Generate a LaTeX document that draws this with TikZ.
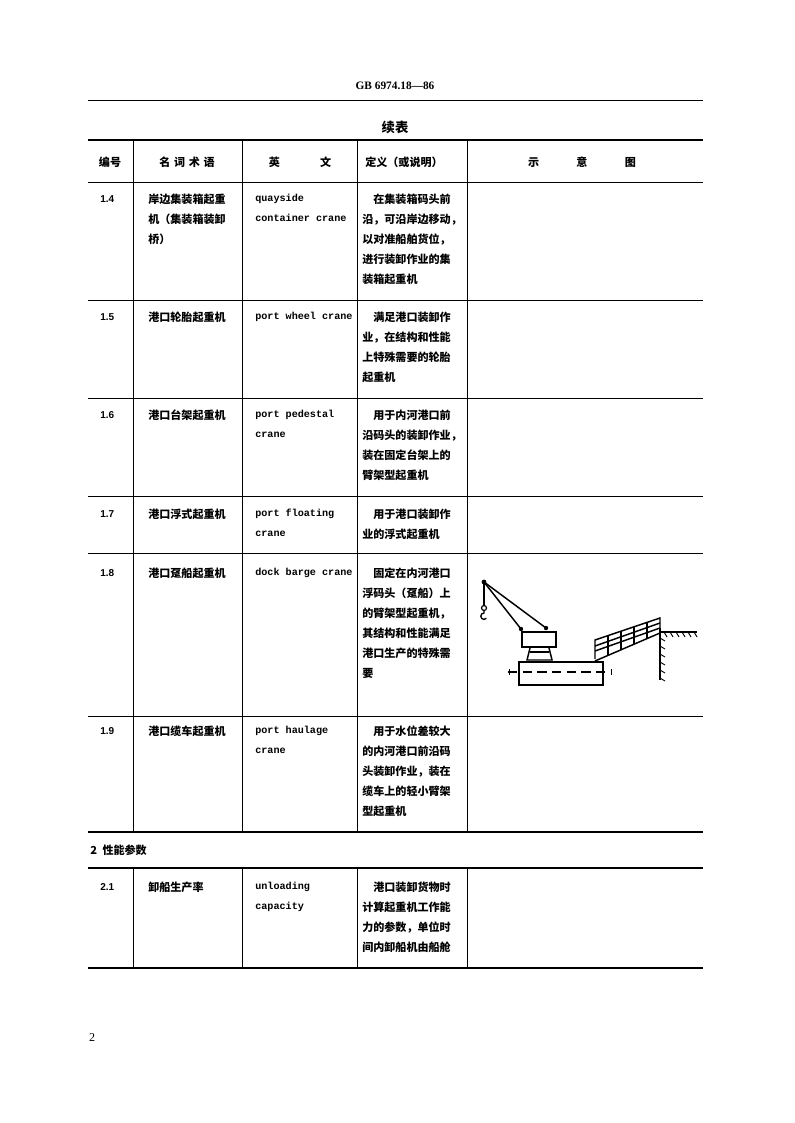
\documentclass[tikz,border=0pt]{standalone}
\usepackage{fontspec}
\newfontfamily\cjk{Noto Sans CJK SC}
\newfontfamily\mono{Liberation Mono Bold}
\newfontfamily\numf{Liberation Sans Bold}
\setmainfont{Liberation Serif}
\begin{document}
\begin{tikzpicture}[x=0.75pt,y=-0.75pt,
  cell/.style={anchor=north west,inner sep=0pt,font=\cjk\bfseries\fontsize{8.3}{15}\selectfont,align=left},
  en/.style={anchor=north west,inner sep=0pt,font=\mono\fontsize{7.6}{15}\selectfont,align=left},
  num/.style={anchor=north west,inner sep=0pt,font=\numf\fontsize{7.5}{15}\selectfont},
  thin/.style={line width=0.5pt}]
\useasboundingbox (0,0) rectangle (794,1123);
\node[inner sep=0pt,font=\fontsize{8.5}{10}\selectfont\bfseries] (hd) at (395,86) {GB 6974.18—86};
\draw[thin] (88,100) -- (703,100);
\node[inner sep=0pt,font=\cjk\bfseries\fontsize{10}{12}\selectfont] (xb) at (395,127) {续表};
\draw[line width=1.2pt] (88,140) -- (703,140);
\foreach \y in {182,300,398,496,553,716}{\draw[thin] (88,\y) -- (703,\y);}
\draw[line width=1pt] (88,832) -- (703,832);
\draw[line width=1pt] (88,868) -- (703,868);
\draw[line width=1pt] (88,968) -- (703,968);
\foreach \x in {133,242,357,467}{\draw[thin] (\x,140) -- (\x,832); \draw[thin] (\x,868) -- (\x,968);}
% header
\node[inner sep=0pt,font=\cjk\bfseries\fontsize{8.3}{10}\selectfont] (h1) at (110,162) {编号};
\node[inner sep=0pt,font=\cjk\bfseries\fontsize{8.3}{10}\selectfont] (h2) at (187,162) {名\,\,词\,\,术\,\,语};
\node[inner sep=0pt,font=\cjk\bfseries\fontsize{8.3}{10}\selectfont] (h3) at (300,162) {英\hspace{30pt}文};
\node[inner sep=0pt,font=\cjk\bfseries\fontsize{8.3}{10}\selectfont] (h4) at (404,162) {定义（或说明）};
\node[inner sep=0pt,font=\cjk\bfseries\fontsize{8.3}{10}\selectfont] (h5) at (582,162) {示\hspace{28pt}意\hspace{28pt}图};
% rows
\node[num] (n14) at (100,195) {1.4};
\node[cell] (t14) at (148,194) {岸边集装箱起重\\机（集装箱装卸\\桥）};
\node[en] (e14) at (255,194) {quayside\\container crane};
\node[cell] (d14) at (362,194) {\quad 在集装箱码头前\\沿，可沿岸边移动，\\以对准船舶货位，\\进行装卸作业的集\\装箱起重机};
\node[num] (n15) at (100,313) {1.5};
\node[cell] (t15) at (148,312) {港口轮胎起重机};
\node[en] (e15) at (255,312) {port wheel crane};
\node[cell] (d15) at (362,312) {\quad 满足港口装卸作\\业，在结构和性能\\上特殊需要的轮胎\\起重机};
\node[num] (n16) at (100,411) {1.6};
\node[cell] (t16) at (148,410) {港口台架起重机};
\node[en] (e16) at (255,410) {port pedestal\\crane};
\node[cell] (d16) at (362,410) {\quad 用于内河港口前\\沿码头的装卸作业，\\装在固定台架上的\\臂架型起重机};
\node[num] (n17) at (100,510) {1.7};
\node[cell] (t17) at (148,509) {港口浮式起重机};
\node[en] (e17) at (255,509) {port floating\\crane};
\node[cell] (d17) at (362,509) {\quad 用于港口装卸作\\业的浮式起重机};
\node[num] (n18) at (100,569) {1.8};
\node[cell] (t18) at (148,568) {港口趸船起重机};
\node[en] (e18) at (255,568) {dock barge crane};
\node[cell] (d18) at (362,568) {\quad 固定在内河港口\\浮码头（趸船）上\\的臂架型起重机，\\其结构和性能满足\\港口生产的特殊需\\要};
\node[num] (n19) at (100,727) {1.9};
\node[cell] (t19) at (148,726) {港口缆车起重机};
\node[en] (e19) at (255,726) {port haulage\\crane};
\node[cell] (d19) at (362,726) {\quad 用于水位差较大\\的内河港口前沿码\\头装卸作业，装在\\缆车上的轻小臂架\\型起重机};
\node[cell,font=\cjk\bfseries\fontsize{8.3}{10}\selectfont] (s2) at (90,845) {2\enspace 性能参数};
\node[num] (n21) at (100,883) {2.1};
\node[cell] (t21) at (148,882) {卸船生产率};
\node[en] (e21) at (255,882) {unloading\\capacity};
\node[cell] (d21) at (362,882) {\quad 港口装卸货物时\\计算起重机工作能\\力的参数，单位时\\间内卸船机由船舱};
\node[inner sep=0pt,font=\fontsize{9}{10}\selectfont] (pg) at (92,1038) {2};
% crane sketch
\begin{scope}[line width=1.1pt]
\fill (484,582) circle (2.4);
\draw (484,582) -- (521,629);
\draw (484,582) -- (546,628);
\fill (521,629) circle (2.2); \fill (546,628) circle (2.2);
\draw[line width=0.8pt] (484,582) -- (484,605);
\draw[line width=0.9pt] (484,608) circle (2.5);
\draw[line width=1pt] (484,610.5) -- (484,613) arc (-90:-320:3.2);
\draw (522,632) rectangle (556,647);
\draw (530,648) -- (527,660) -- (552,660) -- (549,648);
\draw (530,652) -- (549,652);
\draw (519,662) rectangle (603,685);
\draw[dashed,dash pattern=on 7pt off 4pt] (508,672) -- (612,672);
\draw[line width=0.7pt] (509,669)--(509,675) (611,669)--(611,675);
% gangway
\draw (595,661) -- (660,633);
\draw (595,659) -- (595,640) -- (660,618) -- (660,633);
\draw (595,646) -- (660,623);
\draw (595,651) -- (660,628);
\foreach \t in {0.2,0.4,0.6,0.8}{\draw ({595+65*\t},{640-22*\t}) -- ({595+65*\t},{661-28*\t});}
\draw (660,628) -- (660,680);
\draw (660,632) -- (697,632);
\end{scope}
\foreach \x in {664,670,...,696}{\draw[line width=0.7pt] (\x,632) -- (\x+3,637);}
\foreach \y in {638,646,...,678}{\draw[line width=0.7pt] (660,\y) -- (665,\y+3);}
\end{tikzpicture}
\end{document}
